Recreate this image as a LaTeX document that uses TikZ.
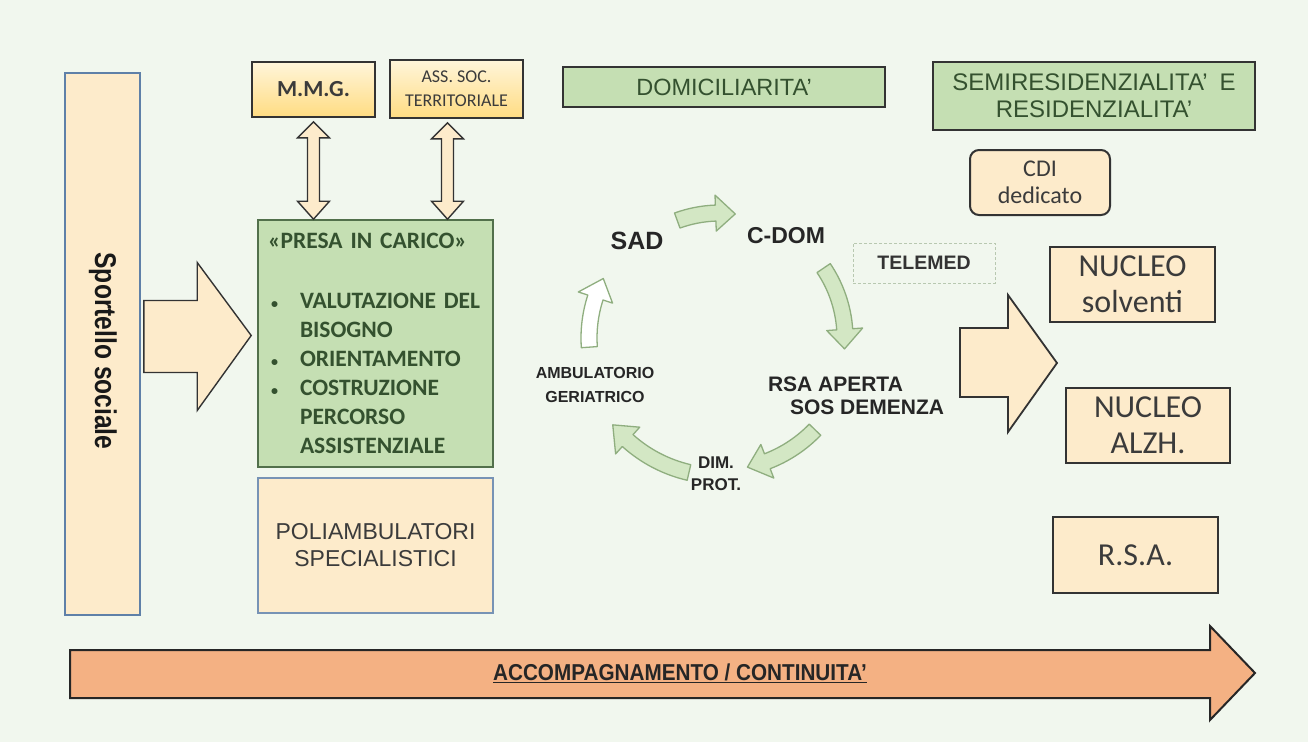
\documentclass[tikz,border=0pt]{standalone}
\usepackage{fontspec}
\setmainfont{Liberation Sans}
\newfontfamily\calfont{Carlito}
\usetikzlibrary{positioning,calc}

\definecolor{bgcol}{HTML}{F1F7EE}
\definecolor{cream}{HTML}{FDEBCB}
\definecolor{leaf}{HTML}{C5DFB3}
\definecolor{leafdark}{HTML}{34512F}
\definecolor{leafline}{HTML}{52704B}
\definecolor{slate}{HTML}{5F80A8}
\definecolor{salmon}{HTML}{F4B183}
\definecolor{inkgrey}{HTML}{3B3B3B}
\definecolor{boxline}{HTML}{333333}
\definecolor{goldtop}{HTML}{FFF5DA}
\definecolor{goldbot}{HTML}{FFDC82}
\definecolor{paleleaf}{HTML}{D3E7C4}
\definecolor{cycline}{HTML}{8FAE7F}
\definecolor{dashgrey}{HTML}{B8C8B0}

\begin{document}
\begin{tikzpicture}[x=1pt,y=-1pt,
  plainbox/.style={draw=boxline, line width=1.6pt, inner sep=0pt, align=center},
  greenbox/.style={plainbox, fill=leaf, text=leafdark},
  creambox/.style={plainbox, line width=2.2pt, fill=cream, text=inkgrey, font=\calfont\fontsize{32}{36}\selectfont},
  goldbox/.style={plainbox, top color=goldtop, bottom color=goldbot, text=inkgrey},
  blockarrow/.style={draw=boxline, line width=1.4pt, fill=cream, line join=miter},
  cyclearrow/.style={draw=cycline, line width=1.3pt, line join=round},
  cyclabel/.style={text=black!85, align=center}]

\useasboundingbox (0,0) rectangle (1308,742);
\fill[bgcol] (0,0) rectangle (1308,742);

%left column
\node[plainbox, draw=slate, fill=cream, minimum width=75, minimum height=542] (sportello) at (102.5,344) {};
\node[rotate=-90, font=\bfseries\fontsize{30}{32}\selectfont, text=black!90] (sportellolbl) at (103,351) {\scalebox{0.82}[1]{Sportello sociale}};

%top boxes
\node[goldbox, minimum width=123, minimum height=55, font=\calfont\bfseries\fontsize{23}{26}\selectfont] (mmg) at (313.5,89.5) {M.M.G.};
\node[goldbox, minimum width=133, minimum height=58, font=\calfont\fontsize{18}{24}\selectfont] (ass) at (456.5,89) {ASS. SOC.\\TERRITORIALE};

%presa in carico
\node[greenbox, draw=leafline, minimum width=235, minimum height=247, text width=215pt, align=left,
  font=\calfont\bfseries\fontsize{23.5}{29}\selectfont] (presa) at (375.5,343.5)
  {«PRESA IN CARICO»\\[31pt]
   \makebox[32pt][l]{\hspace{3pt}\scalebox{0.6}{\textbullet}}VALUTAZIONE DEL\\
   \hspace*{32pt}BISOGNO\\
   \makebox[32pt][l]{\hspace{3pt}\scalebox{0.6}{\textbullet}}ORIENTAMENTO\\
   \makebox[32pt][l]{\hspace{3pt}\scalebox{0.6}{\textbullet}}COSTRUZIONE\\
   \hspace*{32pt}PERCORSO\\
   \hspace*{32pt}ASSISTENZIALE};
\node[plainbox, draw=slate!85, fill=cream, text=inkgrey, minimum width=235, minimum height=135,
  font=\fontsize{23}{27}\selectfont] (poli) at (375.5,545.5) {POLIAMBULATORI\\SPECIALISTICI};

%double arrows
\foreach \upper/\dx in {mmg/0, ass/-9}
\draw[blockarrow] let \p1=($(\upper.south)+(\dx,0)$), \p2=(presa.north) in
  (\x1,\y1-4pt) -- (\x1+16pt,\y1-20pt) -- (\x1+6pt,\y1-20pt) -- (\x1+6pt,\y2+18pt)
  -- (\x1+16pt,\y2+18pt) -- (\x1,\y2) -- (\x1-16pt,\y2+18pt) -- (\x1-6pt,\y2+18pt)
  -- (\x1-6pt,\y1-20pt) -- (\x1-16pt,\y1-20pt) -- cycle;

%sportello to presa
\draw[blockarrow] let \p1=(sportello.east), \p2=(presa.west) in
  (\x1+3pt,\y2+43pt) -- (\x2-60pt,\y2+43pt) -- (\x2-60pt,\y2+81pt) -- (\x2-6pt,\y2+8pt)
  -- (\x2-60pt,\y2-67pt) -- (\x2-60pt,\y2-29pt) -- (\x1+3pt,\y2-29pt) -- cycle;

%header boxes
\node[greenbox, draw=black!80, line width=2.4pt, minimum width=322, minimum height=40,
  font=\fontsize{23.5}{26}\selectfont] (domi) at (724,87) {DOMICILIARITA'};
\node[greenbox, draw=black!80, line width=2.4pt, minimum width=322, minimum height=68,
  font=\fontsize{24}{27}\selectfont] (semi) at (1094,96) {SEMIRESIDENZIALITA'\enspace E\\RESIDENZIALITA'};
\node[plainbox, line width=2pt, fill=cream, text=inkgrey, rounded corners=9pt, minimum width=140, minimum height=65,
  font=\calfont\fontsize{24}{27}\selectfont] (cdi) at (1040,182.5) {CDI\\dedicato};

%residential boxes
\node[creambox, minimum width=165, minimum height=75] (nucsolv) at (1132.5,284.5) {NUCLEO\\solventi};
\node[creambox, minimum width=164, minimum height=75] (nucalzh) at (1148,425.5) {NUCLEO\\ALZH.};
\node[creambox, minimum width=165, minimum height=76] (rsa) at (1135.5,555) {R.S.A.};
\draw[blockarrow, line width=1.8pt] (960,328) -- (1008,328) -- (1008,295) -- (1057,363) -- (1008,432) -- (1008,397) -- (960,397) -- cycle;

%cycle
\node[draw=dashgrey, dash pattern=on 3pt off 2pt, line width=1pt, minimum width=142, minimum height=40,
  font=\bfseries\fontsize{19.5}{22}\selectfont, text=black!80] (telemed) at (924,263) {TELEMED};
\node[cyclabel, font=\bfseries\fontsize{25}{28}\selectfont] (sad) at (637,241) {SAD};
\node[cyclabel, font=\bfseries\fontsize{23}{26}\selectfont] (cdom) at (786,236) {C-DOM};
\node[cyclabel, align=left, font=\bfseries\fontsize{21}{23}\selectfont] (rsaap) at (856,396) {RSA APERTA\\\hspace*{22pt}SOS DEMENZA};
\node[cyclabel, font=\bfseries\fontsize{17}{22}\selectfont] (dimprot) at (716,474) {DIM.\\PROT.};
\node[cyclabel, font=\bfseries\fontsize{16}{24}\selectfont] (ambger) at (595,385) {AMBULATORIO\\GERIATRICO};
\foreach \r/\a/\b/\col in {125/250/277/paleleaf, 125/326/365/paleleaf, 132/44/78/paleleaf, 138/103/141/paleleaf, 131/176/207/white}
\draw[cyclearrow, fill=\col, shift={(720,338)}]
  ({\a}:{\r+8}) arc[start angle=\a, end angle=\b-9, radius={\r+8}] -- ({\b-9}:{\r+18}) -- ({\b}:{\r})
  -- ({\b-9}:{\r-18}) -- ({\b-9}:{\r-8}) arc[start angle=\b-9, end angle=\a, radius={\r-8}] -- cycle;

%accompagnamento
\draw[draw=black!85, line width=2pt, fill=salmon, line join=miter]
  (70,650) -- (1210,650) -- (1210,626) -- (1255,673) -- (1210,720) -- (1210,698) -- (70,698) -- cycle;
\node[font=\bfseries\fontsize{23}{26}\selectfont, text=black!85] (accomp) at (680,673) {\underline{\scalebox{0.9}[1]{ACCOMPAGNAMENTO / CONTINUITA'}}};

\end{tikzpicture}
\end{document}
